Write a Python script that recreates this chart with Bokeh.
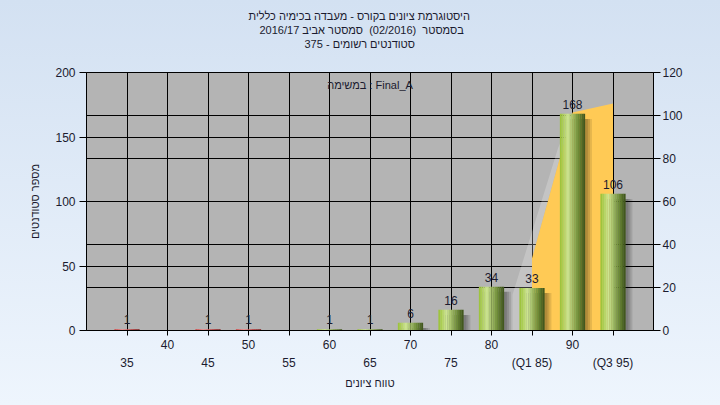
from bokeh.plotting import figure
from bokeh.models import Range1d, LinearAxis, FixedTicker, Grid, Label, Title, ColumnDataSource
from bokeh.core.properties import value
from bokeh.embed import file_html
from bokeh.resources import INLINE

# ---------------- data ----------------
grades = [35, 40, 45, 50, 55, 60, 65, 70, 75, 80, 85, 90, 95]
counts = [1, 0, 1, 1, 0, 1, 1, 6, 16, 34, 33, 168, 106]
grade_labels = ["35", "40", "45", "50", "55", "60", "65", "70", "75", "80",
                "(Q1 85)", "90", "(Q3 95)"]
band_x = [85, 90, 95]          # Q1..Q3 highlighted band
band_top = [56, 169, 176]
left_ticks = [0, 50, 100, 150, 200]
right_ticks = [0, 20, 40, 60, 80, 100, 120]
pass_grade = 55

title_lines = [
    "היסטוגרמת ציונים בקורס - מעבדה בכימיה כללית",
    "בסמסטר \u00a0(02/2016) \u00a0סמסטר אביב 2016/17",
    "סטודנטים רשומים - 375",
]
title_offsets = [162, 173, 218]   # left edge of each title line, px from frame
task_text = "במשימה : Final_A"
y_title = "מספר סטודנטים"
x_title = "טווח ציונים"

FONT = "Liberation Sans"
TXT = "#1b1b2f"

W, H = 720, 405
BL, BR, BT, BB = 86, 67, 72, 75

# ---------------- figure ----------------
p = figure(width=W, height=H, x_range=Range1d(30, 100), y_range=Range1d(0, 200),
           output_backend="svg", toolbar_location=None,
           min_border_left=BL, min_border_right=BR, min_border_top=BT, min_border_bottom=BB)
p.extra_y_ranges = {"right": Range1d(0, 120)}
p.background_fill_color = "#b4b4b4"
p.border_fill_alpha = 0
p.styles = {"background": "linear-gradient(to bottom, #d3e1f2, #eef5fd)"}
p.outline_line_color = "black"
p.outline_line_alpha = 1

# grids
p.xgrid.ticker = FixedTicker(ticks=grades)
p.ygrid.ticker = FixedTicker(ticks=left_ticks)
for g in (p.xgrid, p.ygrid):
    g.grid_line_color = "black"
    g.grid_line_alpha = 1
    g.grid_line_width = 1
rgrid = Grid(dimension=1, ticker=FixedTicker(ticks=right_ticks), y_range_name="right",
             grid_line_color="black", grid_line_width=1)
p.add_layout(rgrid)

def style_axis(ax):
    ax.major_label_text_font = FONT
    ax.major_label_text_font_size = "12px"
    ax.major_label_text_color = TXT
    ax.axis_label_text_font = FONT
    ax.axis_label_text_font_size = "11px"
    ax.axis_label_text_font_style = "normal"
    ax.axis_label_text_color = TXT
    ax.minor_tick_line_color = None
    ax.major_tick_in = 0
    ax.axis_line_color = "black"
    ax.major_tick_line_color = "black"

# left axis
ya = p.yaxis[0]
style_axis(ya)
ya.ticker = FixedTicker(ticks=left_ticks)
ya.major_tick_out = 7
ya.major_label_standoff = 4
ya.axis_label = y_title
ya.axis_label_standoff = 11

# right axis
ra = LinearAxis(y_range_name="right", ticker=FixedTicker(ticks=right_ticks))
style_axis(ra)
ra.major_tick_out = 7
ra.major_label_standoff = 2
p.add_layout(ra, "right")

# x axis, two staggered rows
xa = p.xaxis[0]
style_axis(xa)
xa.ticker = FixedTicker(ticks=grades)
xa.major_tick_out = 5
xa.major_label_standoff = 4
xa.major_label_overrides = {g: (lab if i % 2 == 1 else "") for i, (g, lab) in enumerate(zip(grades, grade_labels))}

xa2 = LinearAxis(ticker=FixedTicker(ticks=grades))
style_axis(xa2)
xa2.axis_line_color = None
xa2.major_tick_line_color = None
xa2.major_tick_out = 0
xa2.major_label_standoff = 4
xa2.major_label_overrides = {g: (lab if i % 2 == 0 else " ") for i, (g, lab) in enumerate(zip(grades, grade_labels))}
xa2.axis_label = x_title
xa2.axis_label_standoff = 4
p.add_layout(xa2, "below")

# spacer between the frame and the title block
p.add_layout(Title(text=" ", text_font_size="2px", standoff=19), "above")
# titles (bottom line is added first, it sits closest to the frame)
for i in reversed(range(len(title_lines))):
    p.add_layout(Title(text=title_lines[i], align="left", offset=title_offsets[i],
                       text_font=FONT, text_font_size="11px", text_font_style="normal",
                       text_color=TXT, standoff=0), "above")

# ---------------- band (Q1..Q3) ----------------
depth_dx, depth_dy = -2.4, -28
side_x = [band_x[0] + depth_dx, band_x[0] + depth_dx, band_x[1] + depth_dx + 0.6,
          band_x[1], band_x[0], band_x[0]]
side_y = [0, band_top[0] + depth_dy, band_top[1] + depth_dy, band_top[1], band_top[0], 0]
p.patch(side_x, side_y, fill_color="#ffffff", fill_alpha=0.22, line_color=None)
p.patch([band_x[0]] + band_x + [band_x[-1]], [0] + band_top + [0],
        fill_color="#ffca55", line_color=None)

# ---------------- bars ----------------
BW = 3.1
NS = 14
green_stops = [(0.0, (158, 196, 62)), (0.3, (206, 230, 146)), (0.75, (112, 142, 56)), (1.0, (66, 88, 30))]
red_stops = [(0.0, (214, 60, 60)), (0.3, (242, 140, 140)), (0.75, (176, 44, 44)), (1.0, (130, 26, 26))]

def grad(stops, t):
    for (t0, c0), (t1, c1) in zip(stops, stops[1:]):
        if t <= t1:
            f = (t - t0) / (t1 - t0)
            return "#%02x%02x%02x" % tuple(round(a + (b - a) * f) for a, b in zip(c0, c1))
    return "#%02x%02x%02x" % stops[-1][1]

# shadows
for dx, a in ((0.35, 0.12), (0.6, 0.12), (0.85, 0.10)):
    p.vbar(x=[g + dx for g in grades], top=[max(c - 4, 0) for c in counts], bottom=0,
           width=BW, fill_color="black", fill_alpha=a, line_color=None)

sx, st, sc = [], [], []
for g, c in zip(grades, counts):
    if c <= 0:
        continue
    stops = green_stops if g >= pass_grade else red_stops
    for k in range(NS):
        sx.append(g - BW / 2 + (k + 0.5) * BW / NS)
        st.append(c)
        sc.append(grad(stops, k / (NS - 1)))
p.vbar(x="x", top="top", bottom=0, width=BW / NS * 1.08, fill_color="color",
       line_color=None, source=ColumnDataSource(dict(x=sx, top=st, color=sc)))

# value labels
lab_src = ColumnDataSource(dict(
    x=[g for g, c in zip(grades, counts) if c > 0],
    y=[c for c in counts if c > 0],
    t=[str(c) for c in counts if c > 0]))
p.text(x="x", y="y", text="t", source=lab_src, text_align="center", text_baseline="bottom",
       y_offset=-5, text_font=value(FONT), text_font_size="12px", text_color=TXT)

# task annotation
p.add_layout(Label(x=(p.x_range.start + p.x_range.end) / 2, y=190, text=task_text,
                   text_align="center", text_baseline="middle", text_font=FONT,
                   text_font_size="11px", text_color=TXT))

open("out.html", "w").write(file_html(p, INLINE))
